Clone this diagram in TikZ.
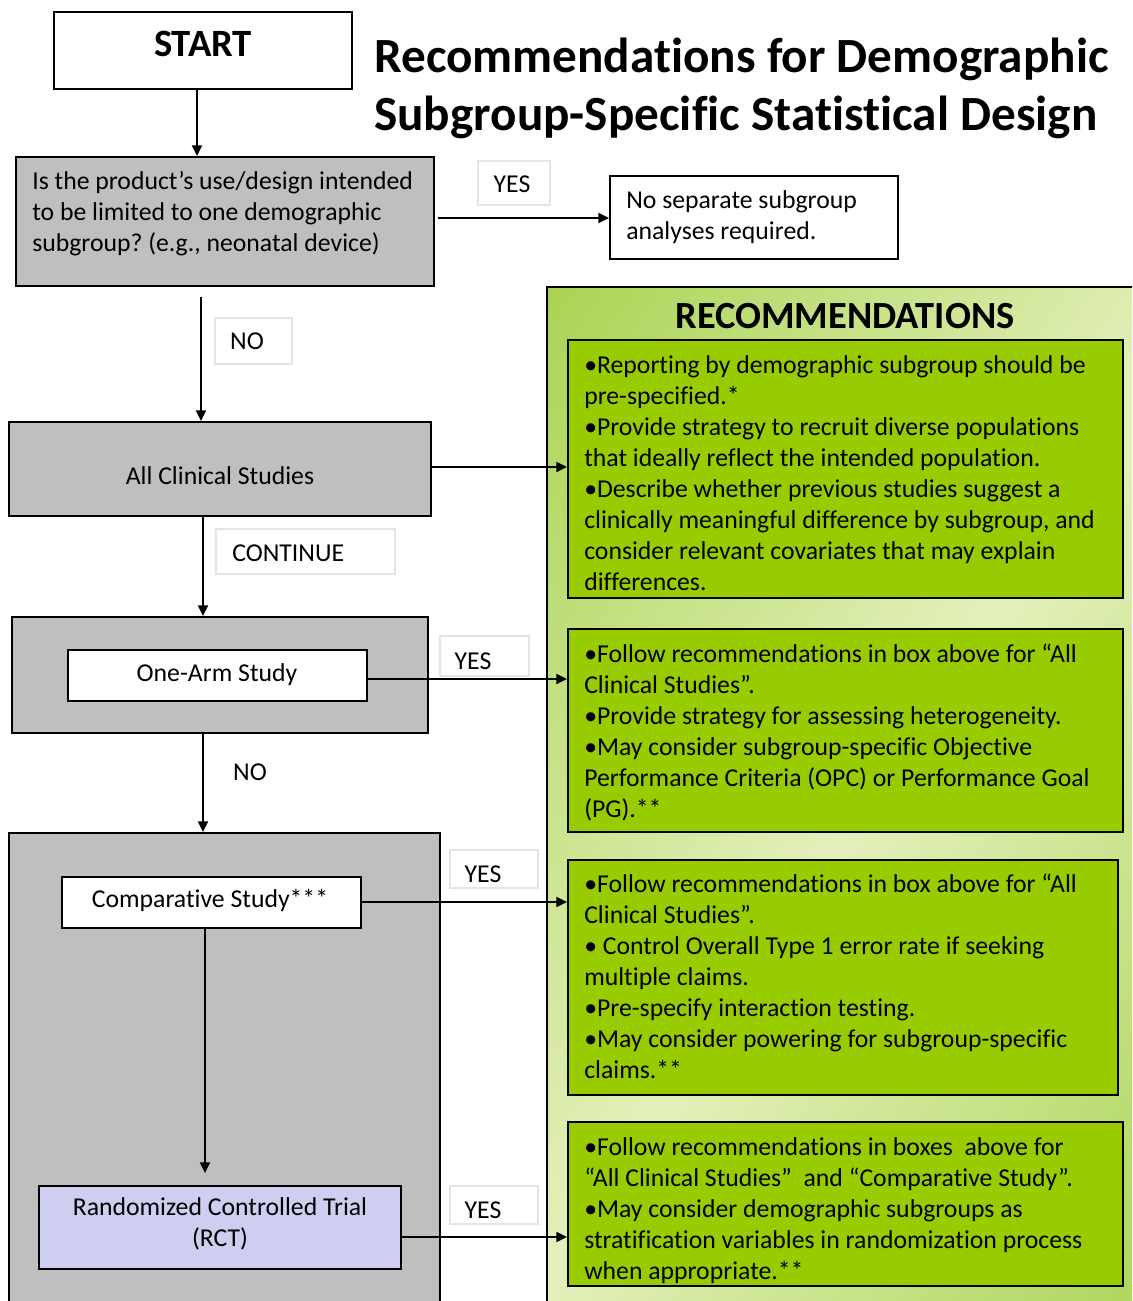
\documentclass[tikz,border=0pt]{standalone}
\usepackage{fontspec}
\setmainfont[Ligatures={NoCommon}]{Carlito}
\usetikzlibrary{arrows.meta,calc,fit}
\definecolor{boxgray}{RGB}{191,191,191}
\definecolor{recgreen}{RGB}{153,204,0}
\definecolor{panelG}{RGB}{158,206,62}
\definecolor{panelL}{RGB}{228,240,188}
\definecolor{rctblue}{RGB}{206,206,240}
\definecolor{lblborder}{RGB}{228,228,228}
\pgfdeclareverticalshading{panelshade}{100bp}{color(0bp)=(panelG); color(8bp)=(panelG); color(50bp)=(panelL); color(92bp)=(panelG); color(100bp)=(panelG)}
\newcommand\bodyfont{\fontsize{19.3}{23.25}\selectfont\frenchspacing}
\begin{document}
\frenchspacing
\begin{tikzpicture}[x=0.75pt,y=-0.75pt,
  blk/.style={draw=black, line width=1.5pt, inner sep=0pt},
  graybox/.style={blk, fill=boxgray},
  whitebox/.style={blk, fill=white},
  recbox/.style={blk, fill=recgreen},
  lblbox/.style={draw=lblborder, line width=0.8pt, fill=white, inner sep=0pt},
  txt/.style={inner sep=0pt, font=\bodyfont, text=black},
  para/.style={txt, align=left, anchor=north west},
  arr/.style={draw=black, line width=1.5pt, -{Triangle[length=8pt,width=7.5pt]}},
]
\useasboundingbox (0,0) rectangle (1132,1301);
\clip (0,0) rectangle (1132,1301);
\fill[white] (0,0) rectangle (1132,1301);

% green panel
\node[draw=black, line width=1.5pt, inner sep=0pt, shading=panelshade, shading angle=56, fit={(547,287) (1170,1340)}] (panel) {};
\node[txt, anchor=base, font=\bfseries\fontsize{28.8}{34}\selectfont] (rechead) at (845,329) {RECOMMENDATIONS};

% boxes
\node[whitebox, fit={(54,12) (352,89)}] (start) {};
\node[txt, font=\bfseries\fontsize{29}{34}\selectfont] (starttxt) at (203,44) {START};

\node[graybox, fit={(16,157) (434,286)}] (q) {};
\node[para] (qtxt) at (32,167.3) {\strut Is the product’s use/design intended\\to be limited to one demographic\\subgroup? (e.g., neonatal device)};

\node[whitebox, fit={(610,176) (898,259)}] (ns) {};
\node[para] (nstxt) at (626,186.3) {\strut No separate subgroup\\analyses required.};

\node[graybox, fit={(9,422) (431,516)}] (all) {};
\node[txt, anchor=base] (alltxt) at (220,484) {All Clinical Studies};

\node[graybox, fit={(12,617) (428,733)}] (oaout) {};
\node[whitebox, fit={(68,650) (367,701)}] (oa) {};
\node[txt, anchor=base] (oatxt) at (217,681) {One-Arm Study};

\node[graybox, fit={(9,833) (440,1340)}] (cmpout) {};
\node[whitebox, fit={(62,877) (361,928)}] (cs) {};
\node[txt, anchor=base] (cstxt) at (210,907) {Comparative Study***};

\node[blk, fill=rctblue, fit={(39,1186) (401,1269)}] (rct) {};
\node[txt, align=center, anchor=north] (rcttxt) at (220,1193.3) {\strut Randomized Controlled Trial\\(RCT)};

% title
\node[para, font=\bfseries\fontsize{36.9}{43.5}\selectfont] (title) at (374,31.4) {\strut Recommendations for Demographic\\Subgroup-Specific Statistical Design};

% recommendation boxes
\node[recbox, fit={(568,340) (1123,598)}] (r1) {};
\node[para] (r1txt) at (584,351.3) {\strut •Reporting by demographic subgroup should be\\pre-specified.*\\•Provide strategy to recruit diverse populations\\that ideally reflect the intended population.\\•Describe whether previous studies suggest a\\clinically meaningful difference by subgroup, and\\consider relevant covariates that may explain\\differences.};

\node[recbox, fit={(568,629) (1123,832)}] (r2) {};
\node[para] (r2txt) at (584,640.3) {\strut •Follow recommendations in box above for “All\\Clinical Studies”.\\•Provide strategy for assessing heterogeneity.\\•May consider subgroup-specific Objective\\Performance Criteria (OPC) or Performance Goal\\(PG).**};

\node[recbox, fit={(568,860) (1118,1095)}] (r3) {};
\node[para] (r3txt) at (584,870.3) {\strut •Follow recommendations in box above for “All\\Clinical Studies”.\\• Control Overall Type 1 error rate if seeking\\multiple claims.\\•Pre-specify interaction testing.\\•May consider powering for subgroup-specific\\claims.**};

\node[recbox, fit={(568,1122) (1123,1286)}] (r4) {};
\node[para] (r4txt) at (584,1133.3) {\strut •Follow recommendations in boxes~ above for\\“All Clinical Studies”~ and “Comparative Study”.\\•May consider demographic subgroups as\\stratification variables in randomization process\\when appropriate.**};

% labels
\node[lblbox, fit={(478,161) (550,205)}] (lyes1) {};
\node[txt, anchor=base] (lyes1t) at (512,193) {YES};
\node[lblbox, fit={(215,318) (292,364)}] (lno1) {};
\node[txt, anchor=base] (lno1t) at (247,350) {NO};
\node[lblbox, fit={(216,529) (395,574)}] (lcont) {};
\node[txt, anchor=base west] (lcontt) at (232,561) {CONTINUE};
\node[lblbox, fit={(440,636) (529,676)}] (lyes2) {};
\node[txt, anchor=base] (lyes2t) at (473,669) {YES};
\node[txt, anchor=base] (lno2t) at (250,780) {NO};
\node[lblbox, fit={(450,850) (538,888)}] (lyes3) {};
\node[txt, anchor=base] (lyes3t) at (483,882) {YES};
\node[lblbox, fit={(450,1186) (538,1224)}] (lyes4) {};
\node[txt, anchor=base] (lyes4t) at (483,1218) {YES};

% connectors
\coordinate (c1) at (197,89);
\draw[arr] (c1) -- (c1 |- q.north);
\coordinate (c2) at (438,218);
\draw[arr] (c2) -- (c2 -| ns.west);
\coordinate (c3) at (201,297);
\draw[arr] (c3) -- (c3 |- all.north);
\coordinate (c4) at (431,467);
\draw[arr] (c4) -- (c4 -| r1.west);
\coordinate (c5) at (203,516);
\draw[arr] (c5) -- (c5 |- oaout.north);
\coordinate (c6) at (367,679);
\draw[arr] (c6) -- (c6 -| r2.west);
\coordinate (c7) at (203,733);
\draw[arr] (c7) -- (c7 |- cmpout.north);
\coordinate (c8) at (361,902);
\draw[arr] (c8) -- (c8 -| r3.west);
\coordinate (c9) at (205,928);
\coordinate (c9e) at (205,1173);
\draw[arr] (c9) -- (c9e);
\coordinate (c10) at (401,1237);
\draw[arr] (c10) -- (c10 -| r4.west);
\end{tikzpicture}
\end{document}
